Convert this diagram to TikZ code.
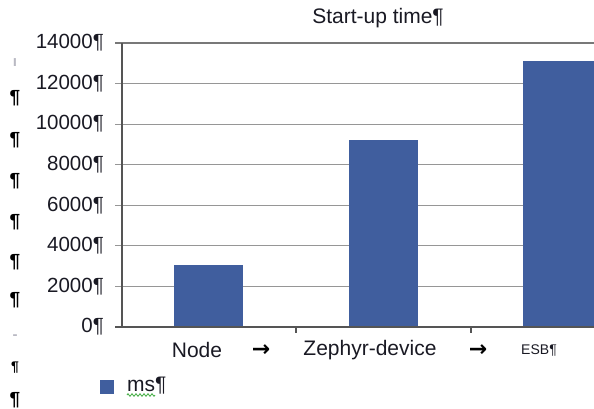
\documentclass[tikz,border=0pt]{standalone}
\usepackage{fontspec}
\setmainfont{Liberation Sans}
\newfontfamily\arrfont{DejaVu Sans}
\usetikzlibrary{decorations.pathmorphing}
\definecolor{barblue}{RGB}{64,94,158}
\definecolor{gridgray}{RGB}{150,150,150}
\definecolor{axisgray}{RGB}{85,85,85}
\definecolor{txt}{RGB}{25,25,35}
\definecolor{markgray}{RGB}{185,185,195}
\definecolor{spellgreen}{RGB}{60,170,60}
\begin{document}
\begin{tikzpicture}[x=1pt,y=-1pt,
  ylab/.style={anchor=east, inner sep=0pt, text=txt, font=\fontsize{20.5}{20.5}\selectfont},
  catlab/.style={inner sep=0pt, text=txt, font=\fontsize{21}{21}\selectfont},
  arrlab/.style={inner sep=0pt, text=black, font=\arrfont\bfseries\fontsize{22}{22}\selectfont},
  pmark/.style={inner sep=0pt, text=black, font=\bfseries\fontsize{19}{19}\selectfont},
  lmark/.style={inner sep=0pt, text=markgray, font=\bfseries\fontsize{15}{15}\selectfont},
  grid line/.style={draw=gridgray, line width=1.2pt},
  axis line/.style={draw=axisgray, line width=1.4pt},
  bar/.style={fill=barblue}]
\useasboundingbox (0,0) rectangle (594,408);
% title
\node[catlab] (title) at (378,18) {Start-up time¶};
% gridlines and y labels
\foreach \v/\nm in {0/y0,2000/y1,4000/y2,6000/y3,8000/y4,10000/y5,12000/y6,14000/y7}{
  \pgfmathsetmacro{\yy}{327-\v/2000*40.57}
  \coordinate (\nm) at (115,\yy);
  \ifnum\v>0
    \draw[grid line] (115,\yy) -- (594,\yy);
  \fi
  \node[ylab] (l\nm) at (104,\yy) {\v¶};
}
\draw[draw=gridgray!80!black, line width=1.6pt] (115,43) -- (594,43);
% bars
\fill[bar] (174,265) rectangle (243,327);
\fill[bar] (349,140) rectangle (418,327);
\fill[bar] (523,61) rectangle (594,327);
% axes
\draw[axis line] (122,43) -- (122,327);
\draw[axis line] (115,327) -- (594,327);
\draw[axis line] (296,327) -- (296,333);
\draw[axis line] (471,327) -- (471,333);
% category labels
\node[catlab] (c1) at (197,350) {Node};
\node[arrlab] (a1) at (261,351) {→};
\node[catlab] (c2) at (370,350) {Zephyr-device};
\node[arrlab] (a2) at (478,351) {→};
\node[catlab, font=\fontsize{14}{14}\selectfont] (c3) at (539,351) {ESB¶};
% legend
\fill[bar] (100,380) rectangle (114,394);
\node[catlab, anchor=west] (leg) at (127,386) {ms¶};
\draw[spellgreen, line width=0.8pt, decorate, decoration={zigzag, segment length=4pt, amplitude=1.3pt}] (127,395) -- (155,395);
% margin marks
\node[lmark] (m0) at (15,63) {ı};
\foreach \yy/\nm in {98/m1,140/m2,181/m3,222/m4,262/m5,300/m6}{
  \node[pmark] (\nm) at (15,\yy) {¶};
}
\node[lmark] (m7) at (15,337) {-};
\node[pmark, font=\bfseries\fontsize{14}{14}\selectfont] (m8) at (15,368) {¶};
\node[pmark] (m9) at (15,400) {¶};
\end{tikzpicture}
\end{document}
